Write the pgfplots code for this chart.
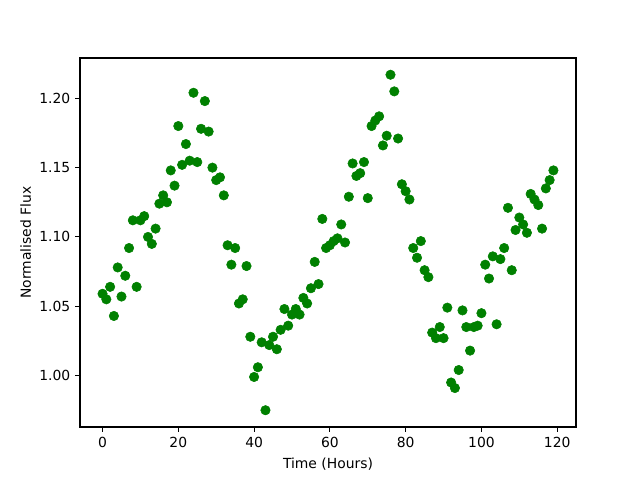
\documentclass[border=0pt]{standalone}
\usepackage{fontspec}
\setmainfont{DejaVu Sans}
\usepackage{pgfplots}
\pgfplotsset{compat=1.18}
\begin{document}
\begin{tikzpicture}
\begin{axis}[
  at={(0,0)}, anchor=south west,
  scale only axis,
  width=357.1pt, height=265.7pt,
  xmin=-5.95, xmax=124.95,
  ymin=0.9629, ymax=1.2291,
  xtick={0,20,40,60,80,100,120},
  ytick={1.00,1.05,1.10,1.15,1.20},
  yticklabel style={/pgf/number format/.cd,fixed,fixed zerofill,precision=2},
  /pgf/number format/assume math mode=true,
  tick align=outside,
  major tick length=3.5pt,
  tick style={black, line width=0.8pt},
  xtick pos=bottom, ytick pos=left,
  axis line style={line width=0.8pt},
  ticklabel style={font=\fontsize{10}{12}\selectfont},
  label style={font=\fontsize{10}{12}\selectfont},
  xlabel={Time (Hours)},
  ylabel={Normalised Flux},
  xlabel style={yshift=-1pt},
  ylabel style={yshift=-1pt},
]
\addplot[only marks, mark=*, mark size=3.4pt, color={rgb,255:red,0;green,128;blue,0}] coordinates {
(0,1.059)(1,1.055)(2,1.064)(3,1.043)(4,1.078)(5,1.057)(6,1.072)(7,1.092)(8,1.112)(9,1.064)
(10,1.112)(11,1.115)(12,1.100)(13,1.095)(14,1.106)(15,1.124)(16,1.130)(17,1.125)(18,1.148)(19,1.137)
(20,1.180)(21,1.152)(22,1.167)(23,1.155)(24,1.204)(25,1.154)(26,1.178)(27,1.198)(28,1.176)(29,1.150)
(30,1.141)(31,1.143)(32,1.130)(33,1.094)(34,1.080)(35,1.092)(36,1.052)(37,1.055)(38,1.079)(39,1.028)
(40,0.999)(41,1.006)(42,1.024)(43,0.975)(44,1.022)(45,1.028)(46,1.019)(47,1.033)(48,1.048)(49,1.036)
(50,1.044)(51,1.048)(52,1.044)(53,1.056)(54,1.052)(55,1.063)(56,1.082)(57,1.066)(58,1.113)(59,1.092)
(60,1.094)(61,1.097)(62,1.099)(63,1.109)(64,1.096)(65,1.129)(66,1.153)(67,1.144)(68,1.146)(69,1.154)
(70,1.128)(71,1.180)(72,1.184)(73,1.187)(74,1.166)(75,1.173)(76,1.217)(77,1.205)(78,1.171)(79,1.138)
(80,1.133)(81,1.127)(82,1.092)(83,1.085)(84,1.097)(85,1.076)(86,1.071)(87,1.031)(88,1.027)(89,1.035)
(90,1.027)(91,1.049)(92,0.995)(93,0.991)(94,1.004)(95,1.047)(96,1.035)(97,1.018)(98,1.035)(99,1.036)
(100,1.045)(101,1.080)(102,1.070)(103,1.086)(104,1.037)(105,1.084)(106,1.092)(107,1.121)(108,1.076)(109,1.105)
(110,1.114)(111,1.109)(112,1.103)(113,1.131)(114,1.127)(115,1.123)(116,1.106)(117,1.135)(118,1.141)(119,1.148)
};
\end{axis}
\path[use as bounding box] (-57.6pt,-38.16pt) rectangle (403.2pt,307.44pt);
\end{tikzpicture}
\end{document}
